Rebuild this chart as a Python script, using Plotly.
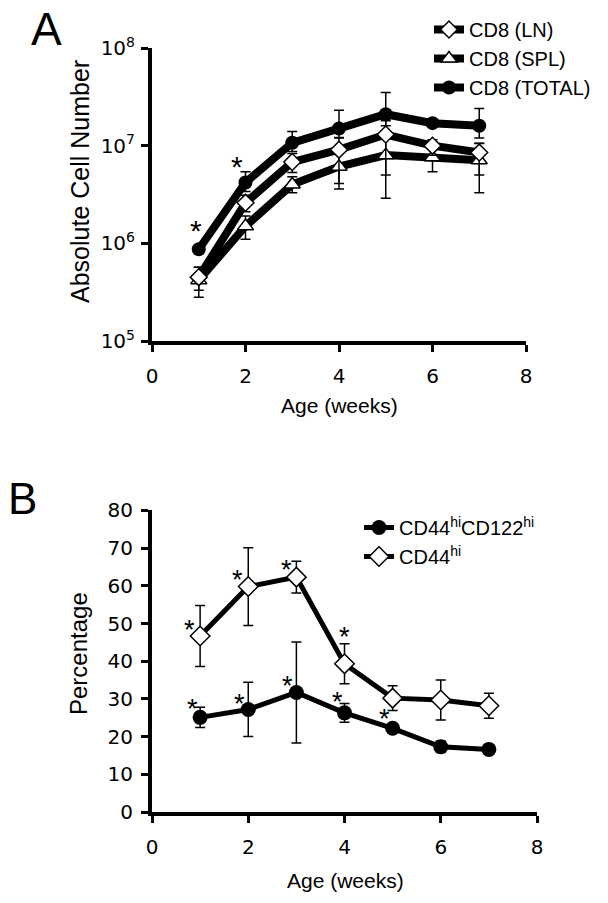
import math
import plotly.graph_objects as go

# ---------------- data ----------------
weeks = [1, 2, 3, 4, 5, 6, 7]

# Panel A (absolute cell numbers)
cd8_ln = [4.5e5, 2.6e6, 6.8e6, 9.1e6, 1.3e7, 1.0e7, 8.5e6]
cd8_ln_err_up = [1.2e5, 5e5, 1.5e6, 3e6, 5e6, 1.5e6, 2e6]
cd8_ln_err_down = [1.2e5, 5e5, 1.5e6, 5e6, 8e6, 2e6, 3.5e6]

cd8_spl = [4.2e5, 1.5e6, 4.0e6, 6.1e6, 8.0e6, 7.6e6, 7.1e6]
cd8_spl_err_up = [1.5e5, 4e5, 8e5, 2.5e6, 5e6, 2.0e6, 3.5e6]
cd8_spl_err_down = [1.4e5, 4e5, 7e5, 2.5e6, 5.1e6, 2.2e6, 3.8e6]

cd8_total = [8.7e5, 4.2e6, 1.07e7, 1.5e7, 2.1e7, 1.7e7, 1.6e7]
cd8_total_err_up = [0, 1.2e6, 3.3e6, 8e6, 1.4e7, 1e6, 8e6]
cd8_total_err_down = [0, 8e5, 2e6, 3e6, 5e6, 1e6, 4e6]

a_ytick_vals = [1e5, 1e6, 1e7, 1e8]
a_ytick_text = ["10<sup>5</sup>", "10<sup>6</sup>", "10<sup>7</sup>", "10<sup>8</sup>"]
a_star_x = [0.94, 1.82]
a_star_y = [1.48e6, 6.76e6]

# Panel B (percentages)
cd44hi = [46.7, 59.8, 62.3, 39.3, 30.2, 29.7, 28.2]
cd44hi_err = [8.1, 10.3, 4.2, 5.3, 3.3, 5.3, 3.3]
cd44hi_cd122hi = [25.1, 27.2, 31.7, 26.3, 22.2, 17.3, 16.6]
cd44hi_cd122hi_err = [2.7, 7.2, 13.4, 2.5, 1.0, 1.5, 0.5]

b_star_x = [0.78, 1.77, 2.80, 3.99, 0.85, 1.82, 2.81, 3.85, 4.84]
b_star_y = [49.2, 62.3, 65.1, 47.1, 28.1, 29.4, 34.3, 29.9, 25.5]

x_ticks = [0, 2, 4, 6, 8]

# ---------------- figure ----------------
# The page body has an 8px default margin, so the figure is 8px smaller and
# screen coordinates are shifted by 8px.
OFF = 8
W, H = 608 - OFF, 903 - OFF
TEXT_FONT = "Liberation Sans, Arial, sans-serif"
TICK_FONT = "DejaVu Sans, Verdana, sans-serif"


def px(x):
    return (x - OFF) / W


def py(y):
    return 1 - (y - OFF) / H


fig = go.Figure()


def err(up, down):
    return dict(type="data", symmetric=False, array=up, arrayminus=down,
                color="black", thickness=1.5, width=5)


fig.add_trace(go.Scatter(
    x=weeks, y=cd8_total, name="CD8 (TOTAL)", mode="lines+markers",
    line=dict(color="black", width=8),
    marker=dict(symbol="circle", size=14, color="black"),
    error_y=err(cd8_total_err_up, cd8_total_err_down),
    xaxis="x", yaxis="y", legend="legend"))
fig.add_trace(go.Scatter(
    x=weeks, y=cd8_spl, name="CD8 (SPL)", mode="lines+markers",
    line=dict(color="black", width=8),
    marker=dict(symbol="triangle-up", size=14, color="white",
                line=dict(color="black", width=1.5)),
    error_y=err(cd8_spl_err_up, cd8_spl_err_down),
    xaxis="x", yaxis="y", legend="legend"))
fig.add_trace(go.Scatter(
    x=weeks, y=cd8_ln, name="CD8 (LN)", mode="lines+markers",
    line=dict(color="black", width=8),
    marker=dict(symbol="diamond", size=13, color="white",
                line=dict(color="black", width=1.5)),
    error_y=err(cd8_ln_err_up, cd8_ln_err_down),
    xaxis="x", yaxis="y", legend="legend"))

fig.add_trace(go.Scatter(
    x=weeks, y=cd44hi, name="CD44<sup>hi</sup>", mode="lines+markers",
    line=dict(color="black", width=5),
    marker=dict(symbol="diamond", size=15, color="white",
                line=dict(color="black", width=1.5)),
    error_y=dict(type="data", array=cd44hi_err, color="black", thickness=1.5, width=5),
    xaxis="x2", yaxis="y2", legend="legend2"))
fig.add_trace(go.Scatter(
    x=weeks, y=cd44hi_cd122hi, name="CD44<sup>hi</sup>CD122<sup>hi</sup>",
    mode="lines+markers",
    line=dict(color="black", width=5),
    marker=dict(symbol="circle", size=15, color="black"),
    error_y=dict(type="data", array=cd44hi_cd122hi_err, color="black", thickness=1.5, width=5),
    xaxis="x2", yaxis="y2", legend="legend2"))

axis_common = dict(showline=True, linecolor="black", linewidth=4, ticks="outside",
                   ticklen=7, tickwidth=3, tickcolor="black", showgrid=False,
                   zeroline=False, automargin=False,
                   tickfont=dict(family=TICK_FONT, size=20, color="black"))

fig.update_layout(
    width=W, height=H, margin=dict(l=0, r=0, t=0, b=0, autoexpand=False),
    paper_bgcolor="white", plot_bgcolor="white",
    xaxis=dict(domain=[px(152), px(526)], range=[0, 8], tickmode="array",
               tickvals=x_ticks, anchor="y", ticklabelstandoff=7, **axis_common),
    yaxis=dict(domain=[py(341), py(48)], type="log", range=[5, 8], tickmode="array",
               tickvals=a_ytick_vals, ticktext=a_ytick_text, anchor="x",
               ticklabelstandoff=2, **axis_common),
    xaxis2=dict(domain=[px(152), px(537)], range=[0, 8], tickmode="array",
                tickvals=x_ticks, anchor="y2", ticklabelstandoff=7, **axis_common),
    yaxis2=dict(domain=[py(812), py(510.4)], range=[0, 80], tickmode="linear",
                tick0=0, dtick=10, anchor="x2", ticklabelstandoff=4, **axis_common),
    legend=dict(x=px(429), y=py(10), xanchor="left", yanchor="top",
                traceorder="reversed", bgcolor="rgba(0,0,0,0)",
                font=dict(family=TEXT_FONT, size=20, color="black"),
                itemwidth=30, tracegroupgap=0),
    legend2=dict(x=px(359), y=py(508), xanchor="left", yanchor="top",
                 traceorder="reversed", bgcolor="rgba(0,0,0,0)",
                 font=dict(family=TEXT_FONT, size=20, color="black"),
                 itemwidth=30, tracegroupgap=0),
    showlegend=True,
)

ann = []
# panel letters
ann.append(dict(text="A", x=px(46), y=py(29), xref="paper", yref="paper",
                showarrow=False, font=dict(family=TEXT_FONT, size=46, color="black"),
                xanchor="center", yanchor="middle"))
ann.append(dict(text="B", x=px(22), y=py(498), xref="paper", yref="paper",
                showarrow=False, font=dict(family=TEXT_FONT, size=44, color="black"),
                xanchor="center", yanchor="middle"))
# axis titles
ann.append(dict(text="Absolute Cell Number", x=px(80), y=py(182), xref="paper", yref="paper",
                showarrow=False, textangle=-90,
                font=dict(family=TEXT_FONT, size=25, color="black"),
                xanchor="center", yanchor="middle"))
ann.append(dict(text="Percentage", x=px(78), y=py(654), xref="paper", yref="paper",
                showarrow=False, textangle=-90,
                font=dict(family=TEXT_FONT, size=24, color="black"),
                xanchor="center", yanchor="middle"))
ann.append(dict(text="Age (weeks)", x=px(339), y=py(405), xref="paper", yref="paper",
                showarrow=False, font=dict(family=TEXT_FONT, size=21, color="black"),
                xanchor="center", yanchor="middle"))
ann.append(dict(text="Age (weeks)", x=px(345), y=py(880), xref="paper", yref="paper",
                showarrow=False, font=dict(family=TEXT_FONT, size=21, color="black"),
                xanchor="center", yanchor="middle"))
# asterisks
for sx, sy in zip(a_star_x, a_star_y):
    ann.append(dict(text="*", x=sx, y=math.log10(sy), xref="x", yref="y",
                    showarrow=False, font=dict(family=TEXT_FONT, size=30, color="black"),
                    xanchor="center", yanchor="middle", yshift=-4))
for sx, sy in zip(b_star_x, b_star_y):
    ann.append(dict(text="*", x=sx, y=sy, xref="x2", yref="y2",
                    showarrow=False, font=dict(family=TEXT_FONT, size=27, color="black"),
                    xanchor="center", yanchor="middle", yshift=-3))
fig.update_layout(annotations=ann)

fig.write_html("out.html")
